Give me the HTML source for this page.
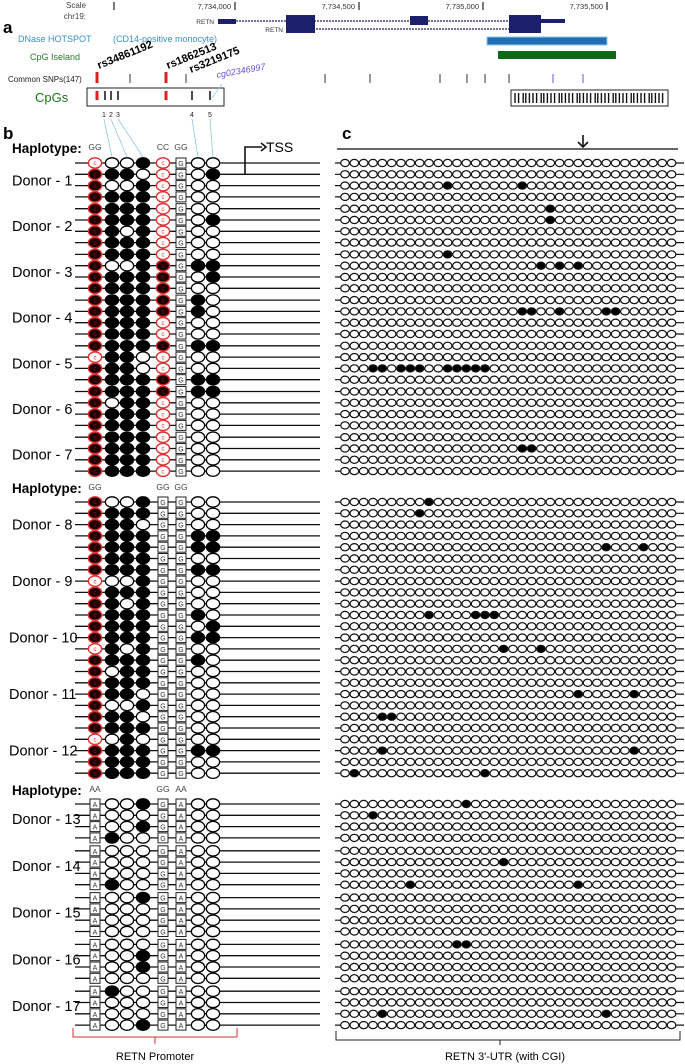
<!DOCTYPE html>
<html><head><meta charset="utf-8"><style>
html,body{margin:0;padding:0;background:#fff;}
svg{display:block;font-family:"Liberation Sans",sans-serif;}
</style></head><body>
<svg id="fig" width="685" height="1064" viewBox="0 0 685 1064" xmlns="http://www.w3.org/2000/svg">
<g id="header">
 <text x="86" y="8" font-size="8" fill="#444" text-anchor="end">Scale</text>
 <text x="86" y="19" font-size="8" fill="#444" text-anchor="end">chr19:</text>
 <g stroke="#222" stroke-width="1.2">
  <line x1="114" y1="2" x2="114" y2="10"/><line x1="235" y1="2" x2="235" y2="10"/>
  <line x1="359" y1="2" x2="359" y2="10"/><line x1="483" y1="2" x2="483" y2="10"/><line x1="607" y1="2" x2="607" y2="10"/>
 </g>
 <g font-size="7.5" fill="#333" text-anchor="end">
  <text x="231" y="9">7,734,000</text><text x="355" y="9">7,734,500</text><text x="479" y="9">7,735,000</text><text x="603" y="9">7,735,500</text>
 </g>
 <text x="3" y="33" font-size="17" font-weight="bold">a</text>
 <g>
  <text x="214" y="24" font-size="6.5" fill="#334" text-anchor="end">RETN</text>
  <line x1="218" y1="21" x2="565" y2="21" stroke="#1c1f6b" stroke-width="1.2" stroke-dasharray="2,1"/>
  <rect x="218" y="19" width="18" height="5" fill="#1c1f6b"/>
  <rect x="286" y="15" width="29" height="12" fill="#1c1f6b"/>
  <rect x="410" y="16" width="18" height="9" fill="#1c1f6b"/>
  <rect x="509" y="15" width="32" height="12" fill="#1c1f6b"/>
  <rect x="541" y="19" width="24" height="4" fill="#1c1f6b"/>
 </g>
 <g>
  <text x="283" y="32" font-size="6.5" fill="#334" text-anchor="end">RETN</text>
  <line x1="286" y1="29" x2="541" y2="29" stroke="#1c1f6b" stroke-width="1.2" stroke-dasharray="2,1"/>
  <rect x="286" y="26" width="29" height="7" fill="#1c1f6b"/>
  <rect x="509" y="26" width="32" height="7" fill="#1c1f6b"/>
 </g>
 <text x="18" y="42" font-size="9" fill="#3a8fc8">DNase HOTSPOT</text>
 <text x="113" y="42" font-size="9" fill="#3a8fc8">(CD14-positive monocyte)</text>
 <rect x="487" y="37" width="120" height="8" fill="#1f6fb4" stroke="#8cc4ea"/>
 <text x="30" y="60" font-size="9" fill="#2a7a2a">CpG Iseland</text>
 <rect x="498" y="51" width="118" height="8" fill="#0a6a1a"/>
 <g font-size="11" font-weight="bold">
  <text transform="translate(99,69) rotate(-22)">rs34861192</text>
  <text transform="translate(168,69) rotate(-22)">rs1862513</text>
  <text transform="translate(191,73) rotate(-22)">rs3219175</text>
 </g>
 <text x="8" y="82" font-size="8" fill="#222">Common SNPs(147)</text>
 <text transform="translate(217,78) rotate(-10)" font-size="9" font-style="italic" fill="#6a4fd8">cg02346997</text>
 <g>
  <rect x="95.5" y="72" width="3" height="11" fill="#e02020"/><rect x="164.5" y="72" width="3" height="11" fill="#e02020"/>
  <g stroke="#333" stroke-width="1"><line x1="130" y1="74" x2="130" y2="83"/><line x1="186" y1="74" x2="186" y2="83"/><line x1="325" y1="74" x2="325" y2="83"/><line x1="370" y1="74" x2="370" y2="83"/><line x1="440" y1="74" x2="440" y2="83"/><line x1="467" y1="74" x2="467" y2="83"/><line x1="485" y1="74" x2="485" y2="83"/><line x1="509" y1="74" x2="509" y2="83"/></g>
  <g stroke="#6a4fd8" stroke-width="1"><line x1="553" y1="74" x2="553" y2="83"/><line x1="583" y1="74" x2="583" y2="83"/></g>
 </g>
 <text x="35" y="102" font-size="13" fill="#1a7a1a">CpGs</text>
 <rect x="87" y="88" width="137" height="18" fill="none" stroke="#222" stroke-width="1"/>
 <g>
  <rect x="95.5" y="91" width="3" height="9" fill="#e02020"/><rect x="164.5" y="91" width="3" height="9" fill="#e02020"/>
  <g stroke="#111" stroke-width="1.5"><line x1="105" y1="91" x2="105" y2="100"/><line x1="111" y1="91" x2="111" y2="100"/><line x1="118" y1="91" x2="118" y2="100"/><line x1="192" y1="91" x2="192" y2="100"/><line x1="210" y1="91" x2="210" y2="100"/></g>
  <line x1="212" y1="98" x2="222" y2="84" stroke="#8cc8e0" stroke-width="0.8"/>
 </g>
 <g font-size="7" fill="#222" text-anchor="middle">
  <text x="104" y="117">1</text><text x="111" y="117">2</text><text x="118" y="117">3</text><text x="192" y="117">4</text><text x="210" y="117">5</text>
 </g>
 <rect x="511" y="90" width="157" height="16" fill="none" stroke="#222" stroke-width="1"/>
 <g id="utrbars"></g>
 <g stroke="#8cc8e0" stroke-width="0.8">
  <line x1="104" y1="119" x2="112" y2="157"/><line x1="111" y1="119" x2="127" y2="157"/><line x1="118" y1="119" x2="143" y2="157"/><line x1="192" y1="119" x2="198" y2="157"/><line x1="210" y1="119" x2="213" y2="157"/>
 </g>
</g>
<text x="3" y="139" font-size="17" font-weight="bold">b</text>
<text x="342" y="139" font-size="17" font-weight="bold">c</text>
<g>
 <path d="M245 174 V147 H262" fill="none" stroke="#111" stroke-width="1.6"/>
 <path d="M261 143 L266 147 L261 151" fill="none" stroke="#111" stroke-width="1.6"/>
 <text x="266" y="152" font-size="14">TSS</text>
</g>
<line x1="337" y1="149" x2="678" y2="149" stroke="#333" stroke-width="1.6"/>
<g>
 <line x1="583" y1="135" x2="583" y2="147" stroke="#111" stroke-width="1.6"/>
 <path d="M578 142 L583 147 L588 142" fill="none" stroke="#111" stroke-width="1.6"/>
</g>
<g id="rows"></g>
<g>
 <path d="M73 1028 V1037 H237 V1028 M155 1037 V1044" fill="none" stroke="#d03030" stroke-width="1"/>
 <text x="155" y="1060" font-size="11" text-anchor="middle">RETN Promoter</text>
</g>
<g>
 <path d="M336 1031 V1040 H680 V1031 M500 1040 V1045" fill="none" stroke="#222" stroke-width="1"/>
 <text x="505" y="1060" font-size="11" text-anchor="middle">RETN 3'-UTR (with CGI)</text>
</g>
</svg>
<script>
// Section 1 (Donors 1-7): digits = c1 c2 c3 c4 c5 c7 c8
const sec1Rows = ["0001000","1110001","1001000","1111000","1111000","1111001","1101000","1111000","1111000","1001111","1111101","1111100","1111110","1111110","1111000","1111000","1111111","0110000","1110000","1111111","1111111","1011000","1111000","1111000","1111000","1111000","1111000","1111000"];
// Section 2 (Donors 8-12): c1 c2 c3 c4 c7 c8
const sec2Rows = ["100100","111100","111000","111111","111111","111100","111111","000100","111100","110100","111110","111101","111111","010100","111110","101100","111100","111000","100100","111000","111100","001000","111111","111100","111100"];
// Section 3 (Donors 13-17): c2 c3 c4 c7 c8
const sec3Rows = ["00100","00000","00100","10000","00000","00000","00000","10000","00100","00000","00000","00000","00000","00100","00100","00000","10000","00000","00000","00100"];
// Right panel methylated CpG indices (0-35) per row
const utrSec1 = {2:[11,19],4:[22],5:[22],8:[11],9:[21,23,25],13:[19,20,23,28,29],18:[3,4,6,7,8,11,12,13,14,15],25:[19,20]};
const utrSec2 = {0:[9],1:[8],4:[28,32],10:[9,14,15,16],13:[17,21],17:[25,31],19:[4,5],22:[4,31],24:[1,15]};
const utrSec3 = {0:[13],1:[3],5:[17],7:[7,25],12:[12,13],18:[4,28]};
const donors1 = ["Donor - 1","Donor - 2","Donor - 3","Donor - 4","Donor - 5","Donor - 6","Donor - 7"];
const donors2 = ["Donor - 8","Donor - 9","Donor - 10","Donor - 11","Donor - 12"];
const donors3 = ["Donor - 13","Donor - 14","Donor - 15","Donor - 16","Donor - 17"];
const haplo = [["GG","CC","GG"],["GG","GG","GG"],["AA","GG","AA"]];
const nUtr = 36;

const NS="http://www.w3.org/2000/svg";
const root=document.getElementById('rows');
function mk(tag,attrs,parent){const e=document.createElementNS(NS,tag);for(const k in attrs)e.setAttribute(k,attrs[k]);(parent||root).appendChild(e);return e;}
const colX=[95,112,127,143,163,181,198,213];
const utrX=i=>345+i*9.33;

// utr cpg bars in header
const ub=document.getElementById('utrbars');
for(let i=0;i<42;i++){const x=515+i*3.6+((i%5==2)?1:0);const b=mk('line',{x1:x,y1:93,x2:x,y2:103,stroke:'#111','stroke-width':1.4},ub);

}

function circ(x,y,filled,g){const c=mk('ellipse',{cx:x,cy:y,rx:6.6,ry:5.2,fill:filled?'#000':'#fff',stroke:'#000','stroke-width':1.3},g);

}
function redc(x,y,filled,g){const c=mk('ellipse',{cx:x,cy:y,rx:6.6,ry:5.2,fill:filled?'#1a0000':'#fff',stroke:'#e03030','stroke-width':1.4},g);


const t=mk('text',{x:x,y:y+2.2,'font-size':6,'text-anchor':'middle',fill:filled?'#8a1a1a':'#e03030'},g);t.textContent='c';}
function box(x,y,ch,g){const r=mk('rect',{x:x-5,y:y-5,width:10,height:10,fill:'#fff',stroke:'#222','stroke-width':1},g);


const t=mk('text',{x:x,y:y+3,'font-size':7,'text-anchor':'middle',fill:'#333'},g);t.textContent=ch;}

function utrRow(y,dots,g){mk('line',{x1:335,y1:y,x2:684,y2:y,stroke:'#111','stroke-width':1.2},g);
for(let i=0;i<nUtr;i++){const f=dots&&dots.includes(i);const c=mk('ellipse',{cx:utrX(i),cy:y,rx:4.3,ry:3.6,fill:f?'#000':'#fff',stroke:'#111','stroke-width':1.2},g);

}}

function header(y,h,g){const t=mk('text',{x:12,y:y+5,'font-size':13.5,'font-weight':'bold'},g);t.textContent='Haplotype:';


[[95,h[0]],[163,h[1]],[181,h[2]]].forEach(([x,s])=>{const e=mk('text',{x:x,y:y+2,'font-size':8.5,'text-anchor':'middle',fill:'#444'},g);e.textContent=s;});}

function label(txt,y,g,x){const t=mk('text',{x:x||12,y:y+5,'font-size':14.5},g);t.textContent=txt;

}

// Section 1
let g1=mk('g',{});
header(148,haplo[0],g1);
sec1Rows.forEach((s,i)=>{const b=Math.floor(i/4),r=i%4;const y=163+b*45.7+r*11.3;
 const g=mk('g',{},g1);
 mk('line',{x1:75,y1:y,x2:320,y2:y,stroke:'#111','stroke-width':1.3},g);
 redc(colX[0],y,s[0]==='1',g);circ(colX[1],y,s[1]==='1',g);circ(colX[2],y,s[2]==='1',g);circ(colX[3],y,s[3]==='1',g);
 redc(colX[4],y,s[4]==='1',g);box(colX[5],y,'G',g);circ(colX[6],y,s[5]==='1',g);circ(colX[7],y,s[6]==='1',g);
 utrRow(y,utrSec1[i],g);});
donors1.forEach((d,b)=>label(d,163+b*45.7+17.5,g1));

// Section 2
let g2=mk('g',{});
header(488,haplo[1],g2);
sec2Rows.forEach((s,i)=>{const y=502+i*11.3;
 const g=mk('g',{},g2);
 mk('line',{x1:75,y1:y,x2:320,y2:y,stroke:'#111','stroke-width':1.3},g);
 redc(colX[0],y,s[0]==='1',g);circ(colX[1],y,s[1]==='1',g);circ(colX[2],y,s[2]==='1',g);circ(colX[3],y,s[3]==='1',g);
 box(colX[4],y,'G',g);box(colX[5],y,'G',g);circ(colX[6],y,s[4]==='1',g);circ(colX[7],y,s[5]==='1',g);
 utrRow(y,utrSec2[i],g);});
donors2.forEach((d,b)=>{const t=mk('rect',{x:8,y:502+(b*5+2)*11.3-9,width:62,height:18,fill:'#fff'},g2);label(d,502+(b*5+2)*11.3,g2,d.length>9?9:12);});

// Section 3
let g3=mk('g',{});
header(790,haplo[2],g3);
sec3Rows.forEach((s,i)=>{const b=Math.floor(i/4),r=i%4;const y=804+b*46.8+r*11.3;
 const g=mk('g',{},g3);
 mk('line',{x1:75,y1:y,x2:320,y2:y,stroke:'#111','stroke-width':1.3},g);
 box(colX[0],y,'A',g);circ(colX[1],y,s[0]==='1',g);circ(colX[2],y,s[1]==='1',g);circ(colX[3],y,s[2]==='1',g);
 box(colX[4],y,'G',g);box(colX[5],y,'A',g);circ(colX[6],y,s[3]==='1',g);circ(colX[7],y,s[4]==='1',g);
 utrRow(y,utrSec3[i],g);});
donors3.forEach((d,b)=>{label(d,804+b*46.8+15,g3,12);});
</script>
</body></html>
